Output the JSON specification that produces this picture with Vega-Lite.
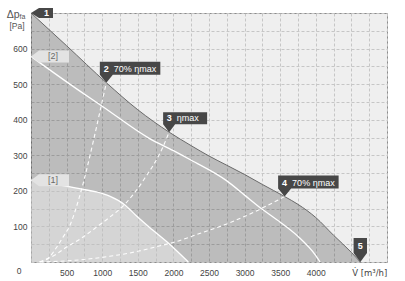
{
  "$schema": "https://vega.github.io/schema/vega-lite/v6.json",
  "width": 356,
  "height": 249,
  "autosize": "none",
  "padding": {"left": 31, "top": 13, "right": 18, "bottom": 19},
  "background": "white",
  "config": {
    "view": {"fill": "#efefef", "stroke": "#8c8c8c", "strokeWidth": 1},
    "font": "Liberation Sans"
  },
  "datasets": {
    "outer": [
      {"x": 0, "y": 700}, {"x": 500, "y": 608}, {"x": 1058, "y": 504}, {"x": 1500, "y": 428},
      {"x": 1940, "y": 365}, {"x": 2250, "y": 327}, {"x": 2500, "y": 298}, {"x": 2750, "y": 272},
      {"x": 3000, "y": 246}, {"x": 3250, "y": 218}, {"x": 3562, "y": 184}, {"x": 3750, "y": 162},
      {"x": 4000, "y": 125}, {"x": 4250, "y": 75}, {"x": 4500, "y": 27}, {"x": 4625, "y": 0}
    ],
    "c2": [
      {"x": 0, "y": 578}, {"x": 682, "y": 481}, {"x": 1000, "y": 438}, {"x": 1666, "y": 347},
      {"x": 2000, "y": 313}, {"x": 2251, "y": 286}, {"x": 2751, "y": 228}, {"x": 3000, "y": 188},
      {"x": 3249, "y": 148}, {"x": 3500, "y": 112}, {"x": 3750, "y": 72}, {"x": 4000, "y": 18},
      {"x": 4060, "y": 0}
    ],
    "c1": [
      {"x": 0, "y": 230}, {"x": 250, "y": 222}, {"x": 532, "y": 212}, {"x": 683, "y": 206},
      {"x": 917, "y": 197}, {"x": 1104, "y": 185}, {"x": 1315, "y": 161}, {"x": 1479, "y": 130},
      {"x": 1666, "y": 97}, {"x": 1947, "y": 50}, {"x": 2210, "y": 0}
    ],
    "sys": [
      {"s": "a", "x": 120, "y": 0}, {"s": "a", "x": 250, "y": 12}, {"s": "a", "x": 355, "y": 40},
      {"s": "a", "x": 450, "y": 70}, {"s": "a", "x": 542, "y": 101}, {"s": "a", "x": 683, "y": 185},
      {"s": "a", "x": 870, "y": 335}, {"s": "a", "x": 987, "y": 440}, {"s": "a", "x": 1058, "y": 504},
      {"s": "b", "x": 120, "y": 0}, {"s": "b", "x": 355, "y": 22}, {"s": "b", "x": 500, "y": 42},
      {"s": "b", "x": 700, "y": 66}, {"s": "b", "x": 960, "y": 104}, {"s": "b", "x": 1100, "y": 125},
      {"s": "b", "x": 1330, "y": 165}, {"s": "b", "x": 1600, "y": 236}, {"s": "b", "x": 1850, "y": 322},
      {"s": "b", "x": 1940, "y": 365},
      {"s": "c", "x": 120, "y": 0}, {"s": "c", "x": 400, "y": 2}, {"s": "c", "x": 683, "y": 6},
      {"s": "c", "x": 1104, "y": 16}, {"s": "c", "x": 1500, "y": 30}, {"s": "c", "x": 1760, "y": 43},
      {"s": "c", "x": 2000, "y": 55}, {"s": "c", "x": 2368, "y": 80}, {"s": "c", "x": 2800, "y": 111},
      {"s": "c", "x": 3211, "y": 148}, {"s": "c", "x": 3562, "y": 184}
    ],
    "markers": [
      {"id": "1", "t": "", "x": 0, "y": 700, "kind": "left"},
      {"id": "2", "t": "70% ηmax", "x": 1058, "y": 504, "kind": "wide"},
      {"id": "3", "t": "ηmax", "x": 1940, "y": 365, "kind": "mid"},
      {"id": "4", "t": "70% ηmax", "x": 3562, "y": 184, "kind": "wide"},
      {"id": "5", "t": "", "x": 4625, "y": 0, "kind": "down"},
      {"id": "[2]", "t": "", "x": 0, "y": 578, "kind": "tag"},
      {"id": "[1]", "t": "", "x": 0, "y": 230, "kind": "tag"}
    ],
    "corner": [{"x": 0, "y": 700}]
  },
  "encoding": {
    "x": {
      "field": "x", "type": "quantitative",
      "scale": {"domain": [0, 5000], "nice": false, "zero": false},
      "axis": {
        "values": [0, 250, 500, 750, 1000, 1250, 1500, 1750, 2000, 2250, 2500, 2750, 3000, 3250, 3500, 3750, 4000, 4250, 4500, 4750, 5000],
        "title": null, "domain": false, "ticks": false, "tickSize": 0,
        "labelPadding": 6, "labelFontSize": 8.5, "labelColor": "#444",
        "labelFont": {"condition": {"test": "datum.value == 4750", "value": "DejaVu Sans"}, "value": "Liberation Sans"},
        "gridColor": "#c6c6c6", "gridDash": [3, 2], "gridWidth": 1,
        "labelFlush": false, "labelOverlap": false, "labelBound": false, "format": "d",
        "labelExpr": "datum.value == 4750 ? 'V\u0307 [m\u00b3/h]' : (datum.value > 0 && datum.value <= 4000 && datum.value % 500 == 0 ? datum.label : '')"
      }
    },
    "y": {
      "field": "y", "type": "quantitative",
      "scale": {"domain": [0, 700], "nice": false},
      "axis": {
        "values": [0, 50, 100, 150, 200, 250, 300, 350, 400, 450, 500, 550, 600, 650, 700],
        "title": null, "domain": false, "ticks": false, "tickSize": 0,
        "labelFontSize": 8.5, "labelColor": "#444", "labelFont": "Liberation Sans",
        "gridColor": "#c6c6c6", "gridDash": [3, 2], "gridWidth": 1,
        "labelOverlap": false, "format": "d",
        "labelPadding": {"condition": {"test": "datum.value == 0", "value": 10}, "value": 4},
        "labelOffset": {"condition": {"test": "datum.value == 0", "value": 8}, "value": 0},
        "labelExpr": "datum.value % 100 == 0 && datum.value < 700 ? datum.label : ''"
      }
    }
  },
  "layer": [
    {
      "data": {"name": "outer"},
      "mark": {"type": "area", "interpolate": "monotone", "color": "#000", "fillOpacity": 0.21}
    },
    {
      "data": {"name": "c1"},
      "mark": {"type": "area", "interpolate": "monotone", "color": "#fff", "fillOpacity": 0.38}
    },
    {
      "data": {"name": "outer"},
      "mark": {"type": "line", "interpolate": "monotone", "color": "#6a6a6a", "strokeWidth": 1}
    },
    {
      "data": {"name": "c2"},
      "mark": {"type": "line", "interpolate": "monotone", "color": "#ffffff", "strokeWidth": 1.3}
    },
    {
      "data": {"name": "c1"},
      "mark": {"type": "line", "interpolate": "monotone", "color": "#ffffff", "strokeWidth": 1.3}
    },
    {
      "data": {"name": "sys"},
      "mark": {"type": "line", "interpolate": "monotone", "color": "#ffffff", "strokeWidth": 1.1, "strokeDash": [4, 3], "opacity": 0.95},
      "encoding": {"detail": {"field": "s"}}
    },
    {
      "data": {"name": "markers"},
      "mark": {"type": "point", "filled": true, "size": 4, "opacity": 1, "strokeWidth": 0},
      "encoding": {
        "shape": {"field": "kind", "type": "nominal", "legend": null,
          "scale": {"domain": ["left", "wide", "mid", "down", "tag"],
            "range": ["M0,0L8,-5L22,-5L22,5L8,5Z", "M0,0L-6.5,-8L-6.5,-21L54,-21L54,-8L6.5,-8Z", "M0,0L-6,-8L-6,-20L38,-20L38,-8L6,-8Z", "M0,0L-6.7,-9L-6.7,-24L6.7,-24L6.7,-9Z", "M0,0L8,-6L38,-6L38,6L8,6Z"]}},
        "color": {"field": "kind", "type": "nominal", "legend": null,
          "scale": {"domain": ["left", "wide", "mid", "down", "tag"],
            "range": ["#474747", "#474747", "#474747", "#474747", "#e3e3e3"]}}
      }
    },
    {
      "data": {"name": "markers"},
      "transform": [{"filter": "datum.kind == 'wide' || datum.kind == 'mid'"}],
      "mark": {"type": "text", "align": "center", "baseline": "middle", "dx": 0, "dy": -14, "fontSize": 9, "fontWeight": "bold", "color": "#ffffff"},
      "encoding": {"text": {"field": "id"}}
    },
    {
      "data": {"name": "markers"},
      "transform": [{"filter": "datum.kind == 'wide' || datum.kind == 'mid'"}],
      "mark": {"type": "text", "align": "left", "baseline": "middle", "dx": 7.5, "dy": -14, "fontSize": 9, "color": "#ffffff"},
      "encoding": {"text": {"field": "t"}}
    },
    {
      "data": {"name": "markers"},
      "transform": [{"filter": "datum.kind == 'left'"}],
      "mark": {"type": "text", "align": "center", "baseline": "middle", "dx": 15.5, "dy": 0, "fontSize": 9, "fontWeight": "bold", "color": "#ffffff"},
      "encoding": {"text": {"field": "id"}}
    },
    {
      "data": {"name": "markers"},
      "transform": [{"filter": "datum.kind == 'down'"}],
      "mark": {"type": "text", "align": "center", "baseline": "middle", "dx": 0, "dy": -16, "fontSize": 9, "fontWeight": "bold", "color": "#ffffff"},
      "encoding": {"text": {"field": "id"}}
    },
    {
      "data": {"name": "markers"},
      "transform": [{"filter": "datum.kind == 'tag'"}],
      "mark": {"type": "text", "align": "center", "baseline": "middle", "dx": 22, "dy": 0, "fontSize": 9, "color": "#6a6a6a"},
      "encoding": {"text": {"field": "id"}}
    },
    {
      "data": {"name": "corner"},
      "mark": {"type": "text", "text": "Δp", "align": "right", "baseline": "alphabetic", "dx": -11.4, "dy": 4.8, "fontSize": 10.5, "color": "#555"}
    },
    {
      "data": {"name": "corner"},
      "mark": {"type": "text", "text": "fa", "align": "left", "baseline": "alphabetic", "dx": -11.4, "dy": 6, "fontSize": 7, "color": "#555"}
    },
    {
      "data": {"name": "corner"},
      "mark": {"type": "text", "text": "[Pa]", "align": "right", "baseline": "middle", "dx": -6.4, "dy": 13.2, "fontSize": 8.5, "color": "#555"}
    }
  ]
}
